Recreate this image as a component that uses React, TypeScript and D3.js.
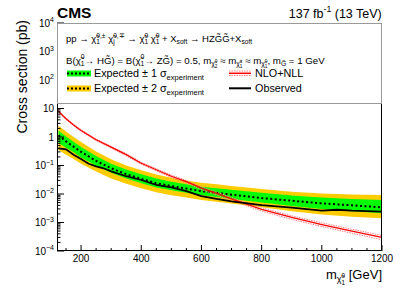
import React from 'react'
import * as d3 from 'd3'

// mass points (GeV) and limits (pb)
const massExp = [125, 150, 175, 200, 250, 300, 350, 400, 450, 500, 550, 600, 650, 700, 800, 900, 1000, 1100, 1200]
const expected = [1.15, 0.7, 0.46, 0.3, 0.145, 0.08, 0.05, 0.034, 0.024, 0.019, 0.0155, 0.0125, 0.011, 0.0095, 0.0072, 0.0058, 0.0047, 0.004, 0.0034]
const expPlus1 = [1.7, 1.05, 0.68, 0.45, 0.215, 0.115, 0.072, 0.049, 0.035, 0.027, 0.022, 0.018, 0.016, 0.014, 0.011, 0.0089, 0.0075, 0.0067, 0.0062]
const expMinus1 = [0.62, 0.42, 0.29, 0.19, 0.098, 0.056, 0.035, 0.024, 0.017, 0.0135, 0.011, 0.009, 0.0078, 0.0067, 0.005, 0.0038, 0.003, 0.0025, 0.0021]
const expPlus2 = [2.5, 1.55, 1.0, 0.67, 0.31, 0.165, 0.1, 0.068, 0.048, 0.037, 0.03, 0.025, 0.022, 0.019, 0.015, 0.012, 0.0105, 0.0097, 0.0092]
const expMinus2 = [0.35, 0.24, 0.17, 0.115, 0.062, 0.035, 0.023, 0.016, 0.0115, 0.009, 0.0075, 0.0062, 0.0053, 0.0046, 0.0034, 0.0025, 0.0019, 0.0016, 0.0014]

const massObs = [125, 150, 175, 200, 225, 250, 275, 300, 350, 400, 450, 500, 550, 600, 650, 700, 800, 900, 1000, 1050, 1100, 1200]
const observed = [0.4, 0.37, 0.24, 0.17, 0.115, 0.093, 0.08, 0.062, 0.042, 0.031, 0.021, 0.017, 0.0125, 0.0085, 0.0068, 0.0055, 0.0041, 0.0033, 0.0026, 0.0028, 0.0026, 0.0024]

const massTheory = [120, 150, 175, 200, 250, 300, 350, 400, 450, 500, 550, 600, 650, 700, 800, 900, 1000, 1100, 1200]
const theory = [8.9, 4.4, 2.65, 1.7, 0.8, 0.44, 0.24, 0.12, 0.071, 0.042, 0.027, 0.016, 0.0105, 0.0067, 0.0029, 0.0015, 0.00085, 0.0005, 0.0003]
const theoryUnc = [0.05, 0.05, 0.05, 0.06, 0.06, 0.07, 0.08, 0.08, 0.09, 0.1, 0.1, 0.11, 0.12, 0.12, 0.13, 0.14, 0.15, 0.16, 0.17]

const xTicks = [200, 400, 600, 800, 1000, 1200]
const xMinor = d3.range(150, 1200, 50)
const yExponents = [-4, -3, -2, -1, 0, 1, 2, 3, 4]

const FONT = '"Liberation Sans", Arial, Helvetica, sans-serif'

type Piece = string | { t?: string; sup?: Piece[]; sub?: Piece[] }

let ctx: CanvasRenderingContext2D | null = null
function tw(s: string, size: number) {
  if (!ctx) ctx = document.createElement('canvas').getContext('2d')
  ctx!.font = `${size}px "Liberation Sans"`
  return ctx!.measureText(s).width
}

// lays out TLatex-ish text, returns width
function layout(pieces: Piece[], x: number, y: number, size: number, out: React.ReactElement[] | null): number {
  let cx = x
  pieces.forEach(p => {
    if (typeof p === 'string') {
      if (out) out.push(<text key={out.length} x={cx} y={y} fontSize={size} style={{ whiteSpace: 'pre' }}>{p}</text>)
      cx += tw(p, size)
    } else {
      if (p.t) {
        if (out) out.push(<text key={out.length} x={cx} y={y} fontSize={size} style={{ whiteSpace: 'pre' }}>{p.t}</text>)
        cx += tw(p.t, size)
      }
      const s2 = size * 0.7
      const wSup = p.sup ? layout(p.sup, cx, y - size * 0.42, s2, out) : 0
      const wSub = p.sub ? layout(p.sub, cx, y + size * 0.25, s2, out) : 0
      cx += Math.max(wSup, wSub)
    }
  })
  return cx - x
}

const Rich = ({ pieces, x, y, size, anchor = 'start' }: { pieces: Piece[]; x: number; y: number; size: number; anchor?: string }) => {
  const w = layout(pieces, 0, 0, size, null)
  const x0 = anchor === 'end' ? x - w : anchor === 'middle' ? x - w / 2 : x
  const out: React.ReactElement[] = []
  layout(pieces, x0, y, size, out)
  return <g>{out}</g>
}

const chi = (sup: string, sub: string): Piece => ({ t: 'χ̃', sup: [sup], sub: [sub] })

const line1: Piece[] = ['pp → ', chi('0,±', '1'), ' ', chi('0,∓', 'j'), ' → ', chi('0', '1'), ' ', chi('0', '1'), ' + X', { sub: ['soft'] }, ' → HZG̃G̃+X', { sub: ['soft'] }]
const line2: Piece[] = ['B(', chi('0', '1'), '→ HG̃) = B(', chi('0', '1'), '→ ZG̃) = 0.5, m', { sub: [chi('0', '2')] }, ' ≈ m', { sub: [chi('±', '1')] }, ' ≈ m', { sub: [chi('0', '1')] }, ', m', { sub: ['G̃'] }, ' = 1 GeV']

export default function App() {
  const W = 407, H = 292
  const L = 57, R = 382, T = 23, B = 251
  const x = d3.scaleLinear().domain([120, 1200]).range([L, R])
  const y = d3.scaleLog().domain([1e-4, 1e4]).range([B, T])

  const band = (lo: number[], hi: number[]) =>
    d3.area<number>().x(i => x(massExp[i])).y0(i => y(lo[i])).y1(i => y(hi[i]))(massExp.map((_, i) => i)) || ''
  const line = (ms: number[], vs: number[]) =>
    d3.line<number>().x(i => x(ms[i])).y(i => y(vs[i]))(ms.map((_, i) => i)) || ''

  const thUp = theory.map((v, i) => v * (1 + theoryUnc[i]))
  const thDn = theory.map((v, i) => v * (1 - theoryUnc[i]))

  const minorY: number[] = []
  yExponents.slice(0, -1).forEach(e => { for (let k = 2; k < 10; k++) minorY.push(k * Math.pow(10, e)) })

  const dotted = '2,2.5'

  return (
    <svg width={W} height={H} style={{ position: 'absolute', left: 0, top: 0, fontFamily: FONT }}>
      <rect width={W} height={H} fill="#fff" />
      <defs>
        <clipPath id="plot"><rect x={L} y={T} width={R - L} height={B - T} /></clipPath>
      </defs>
      <g clipPath="url(#plot)">
        <path d={band(expMinus2, expPlus2)} fill="#ffcc00" />
        <path d={band(expMinus1, expPlus1)} fill="#00ff00" />
        <path d={line(massExp, expected)} fill="none" stroke="#000" strokeWidth={2} strokeDasharray={dotted} />
        <path d={line(massTheory, thUp)} fill="none" stroke="#ff8080" strokeWidth={1} strokeDasharray="1.5,1" />
        <path d={line(massTheory, thDn)} fill="none" stroke="#ff8080" strokeWidth={1} strokeDasharray="1.5,1" />
        <path d={line(massTheory, theory)} fill="none" stroke="#ff0000" strokeWidth={1.3} />
        <path d={line(massObs, observed)} fill="none" stroke="#000" strokeWidth={1.8} />
      </g>
      {/* axes ticks */}
      <g stroke="#000" strokeWidth={1}>
        {yExponents.map(e => <line key={'ym' + e} x1={L} x2={L + 7} y1={y(Math.pow(10, e))} y2={y(Math.pow(10, e))} />)}
        {minorY.map(v => <line key={'yn' + v} x1={L} x2={L + 3.5} y1={y(v)} y2={y(v)} />)}
        {xTicks.map(v => <line key={'xm' + v} x1={x(v)} x2={x(v)} y1={B} y2={B - 6} />)}
        {xMinor.filter(v => v % 200 !== 0).map(v => <line key={'xn' + v} x1={x(v)} x2={x(v)} y1={B} y2={B - 3} />)}
      </g>
      <rect x={L + 0.5} y={T + 0.5} width={R - L - 1} height={B - T - 1} fill="none" stroke="#000" strokeWidth={1} />
      {/* tick labels */}
      <g fontSize={10} fill="#000">
        {xTicks.map(v => <text key={'xl' + v} x={x(v)} y={262} textAnchor="middle">{v}</text>)}
      </g>
      {yExponents.map(e => {
        const p: Piece[] = e === 0 ? ['1'] : e === 1 ? ['10'] : [{ t: '10', sup: [e < 0 ? '−' + -e : String(e)] }]
        return <Rich key={'yl' + e} pieces={p} x={54} y={y(Math.pow(10, e)) + 3.5} size={10} anchor="end" />
      })}
      {/* legend */}
      <rect x={L + 0.5} y={T + 0.5} width={R - L - 1} height={103 - T} fill="#fff" stroke="#999" strokeWidth={1} />
      <Rich pieces={line1} x={66} y={42} size={9.5} />
      <Rich pieces={line2} x={66} y={63.5} size={9.7} />
      <rect x={67} y={70.5} width={24} height={6} fill="#00ff00" />
      <line x1={67} x2={91} y1={73.5} y2={73.5} stroke="#000" strokeWidth={2} strokeDasharray="2,2" />
      <rect x={67} y={85.5} width={24} height={6} fill="#ffcc00" />
      <line x1={67} x2={91} y1={88.5} y2={88.5} stroke="#000" strokeWidth={2} strokeDasharray="2,2" />
      <Rich pieces={['Expected ± 1 σ', { sub: ['experiment'] }]} x={94} y={77} size={10.8} />
      <Rich pieces={['Expected ± 2 σ', { sub: ['experiment'] }]} x={94} y={92} size={10.8} />
      <line x1={229} x2={251} y1={71} y2={71} stroke="#ff8080" strokeWidth={1} strokeDasharray="1.5,1" />
      <line x1={229} x2={251} y1={75.5} y2={75.5} stroke="#ff8080" strokeWidth={1} strokeDasharray="1.5,1" />
      <line x1={229} x2={251} y1={73.3} y2={73.3} stroke="#ff0000" strokeWidth={1.5} />
      <line x1={229} x2={251} y1={88.3} y2={88.3} stroke="#000" strokeWidth={2} />
      <text x={255} y={77} fontSize={10.8}>NLO+NLL</text>
      <text x={255} y={92} fontSize={10.8}>Observed</text>
      {/* titles */}
      <text x={57} y={17.5} fontSize={15.5} fontWeight="bold">CMS</text>
      <Rich pieces={['137 fb', { sup: ['-1'] }, ' (13 TeV)']} x={382} y={17.5} size={12.5} anchor="end" />
      <text transform="translate(26.5,20) rotate(-90)" textAnchor="end" fontSize={14}>Cross section (pb)</text>
      <Rich pieces={['m', { sub: [chi('0', '1')] }, ' [GeV]']} x={382} y={279} size={13} anchor="end" />
    </svg>
  )
}
